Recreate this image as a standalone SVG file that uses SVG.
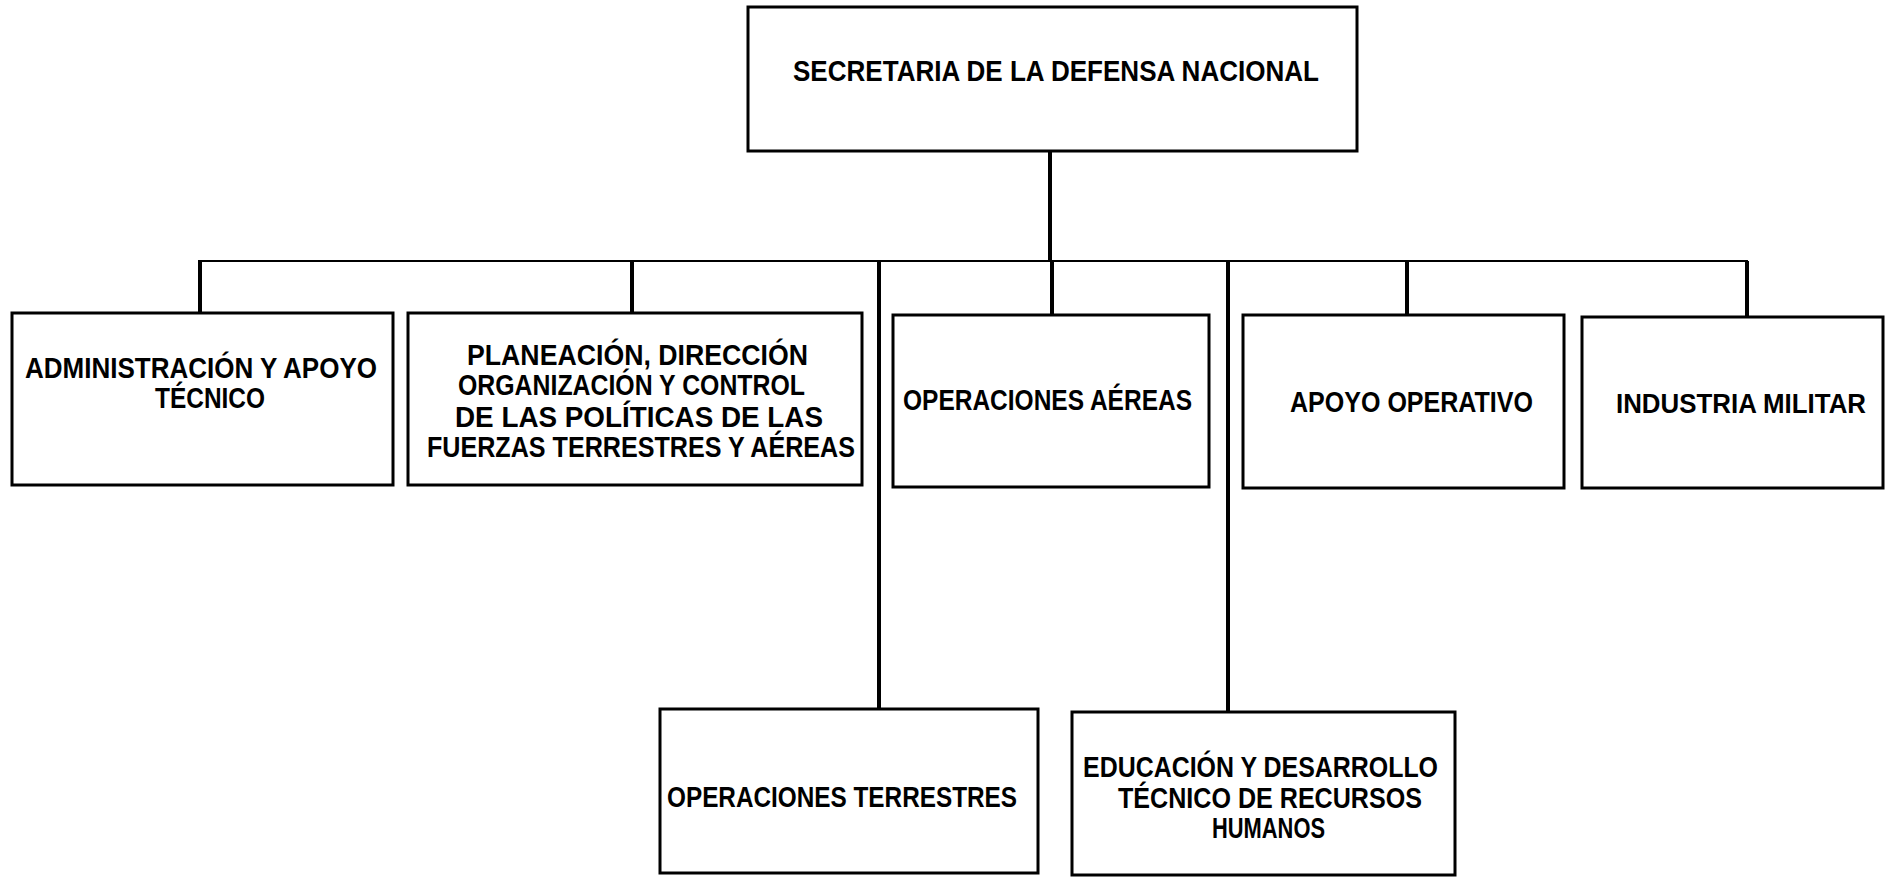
<svg xmlns="http://www.w3.org/2000/svg" width="1892" height="879" viewBox="0 0 1892 879">
<style>
.box{fill:#fff;stroke:#000;stroke-width:3}
.t{font-family:"Liberation Sans",Arial,sans-serif;font-weight:bold;font-size:29px;fill:#000}
.bus{stroke:#000;stroke-width:2;fill:none}
.drop{stroke:#000;stroke-width:4;fill:none}
</style>
<rect width="1892" height="879" fill="#fff"/>
<g id="connectors">
<line class="drop" x1="1050" y1="151" x2="1050" y2="261"/>
<line class="bus" x1="198" y1="261" x2="1748" y2="261"/>
<line class="drop" x1="200" y1="261" x2="200" y2="313"/>
<line class="drop" x1="632" y1="261" x2="632" y2="313"/>
<line class="drop" x1="879" y1="261" x2="879" y2="709"/>
<line class="drop" x1="1052" y1="261" x2="1052" y2="315"/>
<line class="drop" x1="1228" y1="261" x2="1228" y2="712"/>
<line class="drop" x1="1407" y1="261" x2="1407" y2="315"/>
<line class="drop" x1="1747" y1="261" x2="1747" y2="317"/>
</g>
<g id="sedena">
<rect class="box" x="748" y="7" width="609" height="144"/>
<text class="t" x="793" y="81" textLength="526" lengthAdjust="spacingAndGlyphs">SECRETARIA DE LA DEFENSA NACIONAL</text>
</g>
<g id="administracion">
<rect class="box" x="12" y="313" width="381" height="172"/>
<text class="t" x="25" y="378" textLength="352" lengthAdjust="spacingAndGlyphs">ADMINISTRACIÓN Y APOYO</text>
<text class="t" x="155" y="408" textLength="110" lengthAdjust="spacingAndGlyphs">TÉCNICO</text>
</g>
<g id="planeacion">
<rect class="box" x="408" y="313" width="454" height="172"/>
<text class="t" x="467" y="365" textLength="341" lengthAdjust="spacingAndGlyphs">PLANEACIÓN, DIRECCIÓN</text>
<text class="t" x="458" y="395" textLength="347" lengthAdjust="spacingAndGlyphs">ORGANIZACIÓN Y CONTROL</text>
<text class="t" x="455" y="427" textLength="368" lengthAdjust="spacingAndGlyphs">DE LAS POLÍTICAS DE LAS</text>
<text class="t" x="427" y="457" textLength="428" lengthAdjust="spacingAndGlyphs">FUERZAS TERRESTRES Y AÉREAS</text>
</g>
<g id="op-aereas">
<rect class="box" x="893" y="315" width="316" height="172"/>
<text class="t" x="903" y="410" textLength="289" lengthAdjust="spacingAndGlyphs">OPERACIONES AÉREAS</text>
</g>
<g id="apoyo-operativo">
<rect class="box" x="1243" y="315" width="321" height="173"/>
<text class="t" x="1290" y="412" textLength="243" lengthAdjust="spacingAndGlyphs">APOYO OPERATIVO</text>
</g>
<g id="industria-militar">
<rect class="box" x="1582" y="317" width="301" height="171"/>
<text class="t" x="1616" y="413" font-size="27" style="font-size:27px" textLength="250" lengthAdjust="spacingAndGlyphs">INDUSTRIA MILITAR</text>
</g>
<g id="op-terrestres">
<rect class="box" x="660" y="709" width="378" height="164"/>
<text class="t" x="667" y="807" textLength="350" lengthAdjust="spacingAndGlyphs">OPERACIONES TERRESTRES</text>
</g>
<g id="educacion">
<rect class="box" x="1072" y="712" width="383" height="163"/>
<text class="t" x="1083" y="777" textLength="355" lengthAdjust="spacingAndGlyphs">EDUCACIÓN Y DESARROLLO</text>
<text class="t" x="1118" y="808" textLength="304" lengthAdjust="spacingAndGlyphs">TÉCNICO DE RECURSOS</text>
<text class="t" x="1212" y="838" textLength="113" lengthAdjust="spacingAndGlyphs">HUMANOS</text>
</g>
</svg>
